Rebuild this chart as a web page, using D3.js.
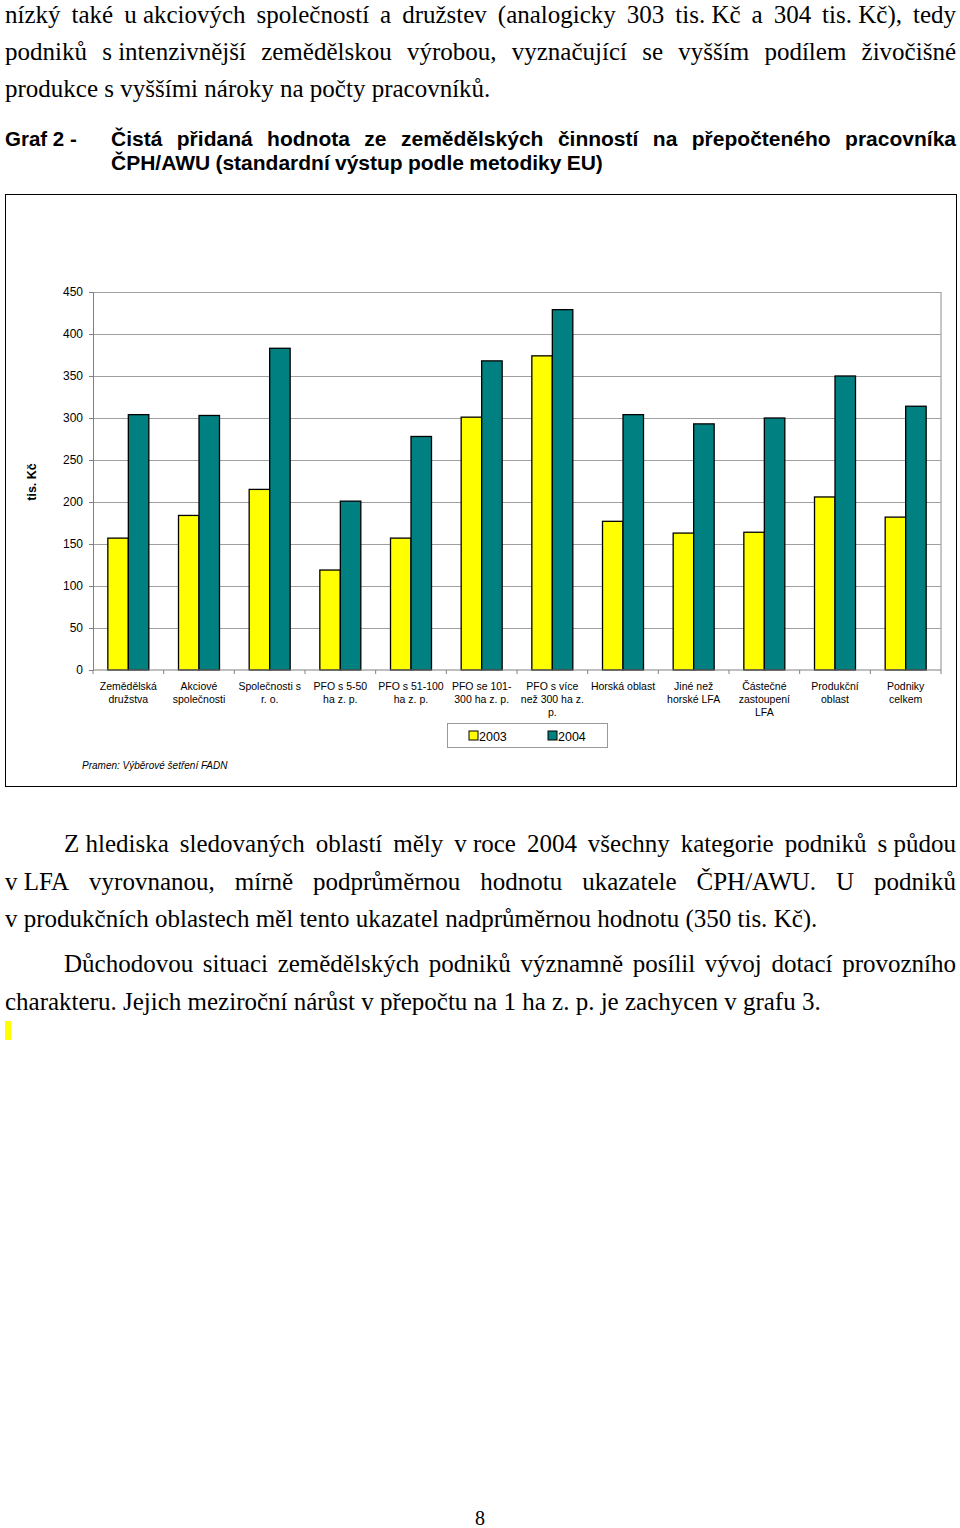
<!DOCTYPE html>
<html>
<head>
<meta charset="utf-8">
<title>Graf 2 - ČPH/AWU</title>
<script src="https://d3js.org/d3.v7.min.js"></script>
<style>
  body { margin: 0; background: #fff; }
  svg { display: block; }
</style>
</head>
<body>
<div id="page"></div>
<script>
//---------------------------- DATA ----------------------------//
const categories = [
  "Zemědělská\ndružstva", "Akciové\nspolečnosti", "Společnosti s\nr. o.",
  "PFO s 5-50\nha z. p.", "PFO s 51-100\nha z. p.", "PFO se 101-\n300 ha z. p.",
  "PFO s více\nnež 300 ha  z.\np.", "Horská oblast", "Jiné než\nhorské LFA",
  "Částečné\nzastoupení\nLFA", "Produkční\noblast", "Podniky\ncelkem"
];
const years = ["2003", "2004"];
const values2003 = [157, 184, 215, 119, 157, 301, 374, 177, 163, 164, 206, 182];
const values2004 = [304, 303, 383, 201, 278, 368, 429, 304, 293, 300, 350, 314];
const yTicks = [0, 50, 100, 150, 200, 250, 300, 350, 400, 450];
const yLabel = "tis. Kč";
const source = "Pramen: Výběrové šetření FADN";

// \u00a0 = non-breaking space (kept tight when justifying)
const paraTop = [
  "nízký také u\u00a0akciových společností a družstev (analogicky 303 tis.\u00a0Kč a 304 tis.\u00a0Kč), tedy",
  "podniků s\u00a0intenzivnější zemědělskou výrobou, vyznačující se vyšším podílem živočišné",
  "produkce s vyššími nároky na počty pracovníků."
];
const titleLabel = "Graf 2 -";
const titleLines = [
  "Čistá přidaná hodnota ze zemědělských činností na přepočteného pracovníka",
  "ČPH/AWU (standardní výstup podle metodiky EU)"
];
const para2 = [
  "Z\u00a0hlediska sledovaných oblastí měly v\u00a0roce 2004 všechny kategorie podniků s\u00a0půdou",
  "v\u00a0LFA vyrovnanou, mírně podprůměrnou hodnotu ukazatele ČPH/AWU. U podniků",
  "v produkčních oblastech měl tento ukazatel nadprůměrnou hodnotu (350 tis. Kč)."
];
const para3 = [
  "Důchodovou situaci zemědělských podniků významně posílil vývoj dotací provozního",
  "charakteru. Jejich meziroční nárůst v přepočtu na 1 ha z. p. je zachycen v grafu 3."
];
const pageNumber = "8";

//---------------------------- SVG -----------------------------//
const width = 960, height = 1528;
const svg = d3.select("#page").append("svg")
  .attr("width", width).attr("height", height);

const serif = "'Liberation Serif', 'Times New Roman', serif";
const sans = "'Liberation Sans', Arial, sans-serif";

// word-by-word justified line
function textLine(words, x0, x1, y, font, size, weight, justify) {
  const g = svg.append("g");
  const parts = words.split(" ").filter(w => w.length);
  const nodes = parts.map(w => g.append("text")
    .attr("y", y)
    .style("font-family", font).style("font-size", size + "px")
    .style("font-weight", weight)
    .text(w));
  const widths = nodes.map(n => n.node().getComputedTextLength());
  const total = d3.sum(widths);
  const space = size * 0.25;
  const gap = justify && parts.length > 1 ? (x1 - x0 - total) / (parts.length - 1) : space;
  let cx = x0;
  nodes.forEach((n, i) => { n.attr("x", cx); cx += widths[i] + gap; });
}

function paragraph(lines, firstIndent, top, lineH) {
  lines.forEach((l, i) => {
    const last = i === lines.length - 1;
    textLine(l, i === 0 ? firstIndent : 5, 956, top + i * lineH, serif, 25, "normal", !last);
  });
}

paragraph(paraTop, 5, 22.5, 37.2);

// title
svg.append("text").attr("x", 5).attr("y", 146)
  .style("font-family", sans).style("font-size", "20.5px").style("font-weight", "bold")
  .text(titleLabel);
textLine(titleLines[0], 111, 956, 146, sans, 21, "bold", true);
textLine(titleLines[1], 111, 956, 170, sans, 21, "bold", false);

//---------------------------- CHART ---------------------------//
svg.append("rect")
  .attr("x", 5.5).attr("y", 194.5).attr("width", 951).attr("height", 592)
  .attr("fill", "#fff").attr("stroke", "#000").attr("stroke-width", 1);

const plot = { left: 93, right: 941, top: 292, bottom: 670 };

const xScale = d3.scaleBand().domain(categories)
  .range([plot.left, plot.right]).paddingInner(0.42).paddingOuter(0.21);
const xSub = d3.scaleBand().domain(years).range([0, xScale.bandwidth()]);
const yScale = d3.scaleLinear().domain([0, 450]).range([plot.bottom, plot.top]);
const color = d3.scaleOrdinal().domain(years).range(["#ffff00", "#008080"]);

// gridlines
svg.append("g")
  .attr("transform", "translate(" + plot.left + ",0)")
  .call(d3.axisLeft(yScale).tickValues(yTicks.slice(1)).tickSize(-(plot.right - plot.left)).tickFormat(""))
  .call(g => g.select(".domain").remove())
  .call(g => g.selectAll("line").attr("stroke", "#a0a0a0").attr("stroke-width", 1.2));

// right border of plot area
svg.append("line")
  .attr("x1", plot.right).attr("x2", plot.right)
  .attr("y1", plot.top).attr("y2", plot.bottom)
  .attr("stroke", "#a0a0a0").attr("stroke-width", 1.2);

// y axis
svg.append("g")
  .attr("transform", "translate(" + plot.left + ",0)")
  .call(d3.axisLeft(yScale).tickValues(yTicks).tickSize(4).tickPadding(6))
  .call(g => g.select(".domain").attr("stroke", "#808080"))
  .call(g => g.selectAll("line").attr("stroke", "#808080"))
  .call(g => g.selectAll("text").style("font-family", sans).style("font-size", "12px").attr("fill", "#000"));

// bars
const series = years.map((yr, i) => ({ year: yr, values: i === 0 ? values2003 : values2004 }));
const groups = svg.selectAll("g.series").data(series).enter().append("g").attr("class", "series");
groups.selectAll("rect")
  .data(s => s.values.map((v, i) => ({ year: s.year, cat: categories[i], v: v })))
  .enter().append("rect")
  .attr("x", d => xScale(d.cat) + xSub(d.year))
  .attr("y", d => yScale(d.v))
  .attr("width", xSub.bandwidth())
  .attr("height", d => yScale(0) - yScale(d.v))
  .attr("fill", d => color(d.year))
  .attr("stroke", "#000").attr("stroke-width", 1.3);

// x axis line and boundary ticks
svg.append("line")
  .attr("x1", plot.left).attr("x2", plot.right)
  .attr("y1", plot.bottom).attr("y2", plot.bottom)
  .attr("stroke", "#808080");
const step = xScale.step();
svg.selectAll("line.xtick").data(d3.range(categories.length + 1)).enter().append("line")
  .attr("class", "xtick")
  .attr("x1", i => plot.left + i * step).attr("x2", i => plot.left + i * step)
  .attr("y1", plot.bottom).attr("y2", plot.bottom + 4)
  .attr("stroke", "#808080");

// category labels
const catLabels = svg.selectAll("text.cat").data(categories).enter().append("text")
  .attr("class", "cat")
  .attr("text-anchor", "middle")
  .style("font-family", sans).style("font-size", "10.5px");
catLabels.each(function(d) {
  const t = d3.select(this);
  const cx = xScale(d) + xScale.bandwidth() / 2;
  d.split("\n").forEach((line, i) => {
    t.append("tspan").attr("x", cx).attr("y", 690 + i * 13).text(line);
  });
});

// y label
svg.append("text")
  .attr("transform", "translate(36,482) rotate(-90)")
  .attr("text-anchor", "middle")
  .style("font-family", sans).style("font-size", "12.5px").style("font-weight", "bold")
  .text(yLabel);

// legend
const legend = svg.append("g").attr("transform", "translate(447,723)");
legend.append("rect").attr("x", 0.5).attr("y", 0.5).attr("width", 160).attr("height", 24)
  .attr("fill", "#fff").attr("stroke", "#999");
const legendItem = legend.selectAll("g.item").data(years).enter().append("g")
  .attr("class", "item")
  .attr("transform", (d, i) => "translate(" + (22 + i * 79) + ",0)");
legendItem.append("rect").attr("x", 0).attr("y", 8).attr("width", 9).attr("height", 9)
  .attr("fill", d => color(d)).attr("stroke", "#000");
legendItem.append("text").attr("x", 10).attr("y", 17.5)
  .style("font-family", sans).style("font-size", "12.5px").text(d => d);

// source
svg.append("text").attr("x", 82).attr("y", 769)
  .style("font-family", sans).style("font-size", "10px").style("font-style", "italic")
  .text(source);

//---------------------------- TEXT BELOW ----------------------//
paragraph(para2, 64, 852, 37.5);
paragraph(para3, 64, 972, 37.5);

svg.append("rect").attr("x", 5).attr("y", 1021).attr("width", 6).attr("height", 19).attr("fill", "#ffff00");

svg.append("text").attr("x", 480).attr("y", 1525).attr("text-anchor", "middle")
  .style("font-family", serif).style("font-size", "20px").text(pageNumber);
</script>
</body>
</html>
